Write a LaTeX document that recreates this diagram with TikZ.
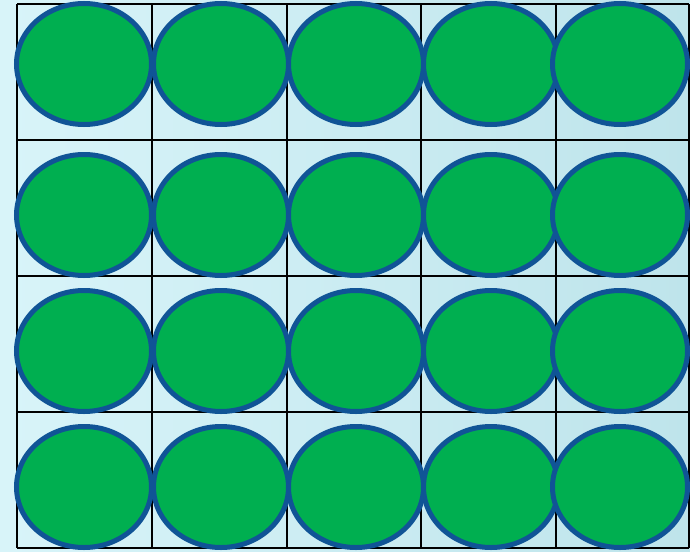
\documentclass[tikz,border=0pt]{standalone}
\usetikzlibrary{shapes.geometric}
\definecolor{bgleft}{RGB}{216,244,249}
\definecolor{bgright}{RGB}{190,228,235}
\definecolor{dotgreen}{RGB}{0,175,80}
\definecolor{dotblue}{RGB}{16,84,150}
\tikzset{
  gridline/.style={draw=black, line width=2pt},
  dot/.style={ellipse, draw=dotblue, fill=dotgreen, line width=5pt, inner sep=0pt, minimum width=135pt, minimum height=121pt}
}
\begin{document}
\begin{tikzpicture}[x=1pt, y=-1pt]
  % background
  \useasboundingbox (0,0) rectangle (690,551);
  \shade[left color=bgleft, right color=bgright] (0,0) rectangle (690,551);
  \fill[bgleft] (0,0) rectangle (17,551);

  % grid
  \foreach \gx in {17,152,287,421,556,689}
    \draw[gridline] (\gx,4) -- (\gx,548);
  \foreach \gy in {4,140,276,412,548}
    \draw[gridline] (17,\gy) -- (689,\gy);

  % dots
  \foreach \cx [count=\i] in {84,221,356,491,620}
    \foreach \cy [count=\j] in {64,215,351,487}
      \node[dot] (dot-\j-\i) at (\cx,\cy) {};
\end{tikzpicture}
\end{document}
